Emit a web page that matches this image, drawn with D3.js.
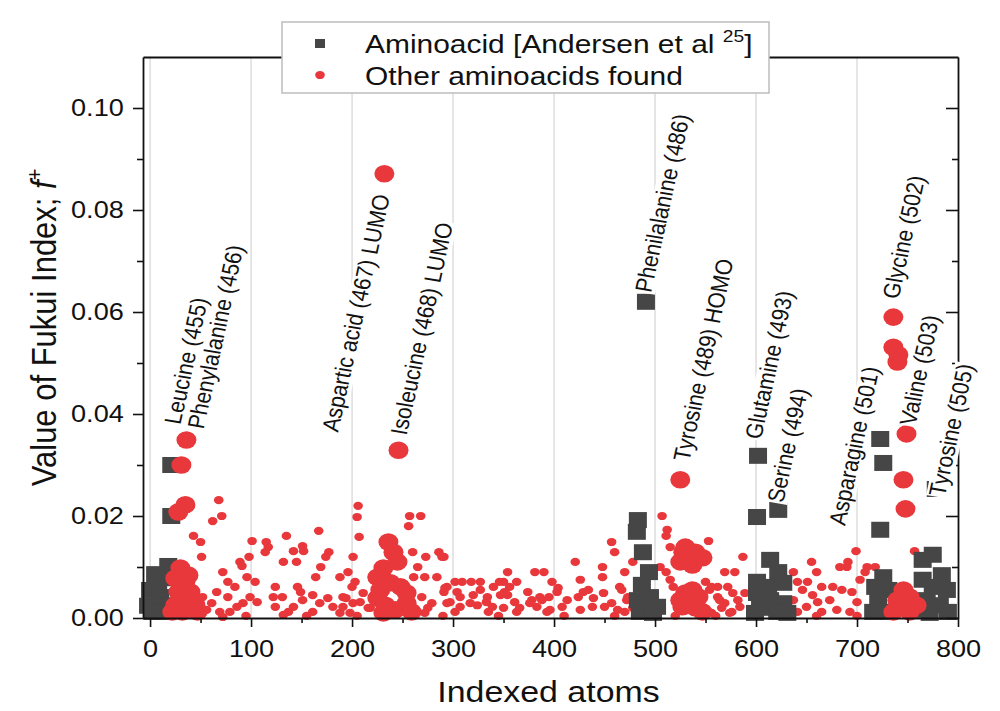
<!DOCTYPE html>
<html>
<head>
<meta charset="utf-8">
<script src="https://cdn.jsdelivr.net/npm/d3@7"></script>
<style>
  body { margin: 0; background: #fff; }
  svg { display: block; }
  text { font-family: "Liberation Sans", Arial, sans-serif; fill: #111; }
</style>
</head>
<body>
<div id="chart"></div>
<script>
// Fukui index f+ per indexed atom

// gray squares: aminoacid atoms from Andersen et al.
const andersen = [
  [21,.0300],[21,.0200],[18,.0102],[5,.0086],[20,.0078],[0,.0055],[10,.0041],[-2,.0024],[12,.0012],[20,.0025],[2,.0012],[8,.0070],
  [491,.0620],[483,.0192],[482,.0169],[488,.0129],[494,.0090],[487,.0065],[495,.0041],[502,.0022],[485,.0012],[498,.0010],[483,.0035],
  [602,.0318],[601,.0198],[622,.0212],[614,.0114],[622,.0090],[601,.0071],[612,.0061],[627,.0069],[601,.0049],[614,.0035],[627,.0029],[604,.0020],[621,.0012],[631,.0010],[599,.0010],
  [723,.0351],[726,.0304],[723,.0173],[726,.0080],[718,.0061],[731,.0055],[721,.0035],[716,.0012],[731,.0012],
  [778,.0253],[775,.0124],[765,.0114],[784,.0084],[765,.0075],[775,.0061],[789,.0055],[769,.0035],[782,.0025],[762,.0016],[790,.0012],[772,.0010]
];

// small red dots: other aminoacid atoms
const otherSmall = [
  [68,.0231],[71,.0200],[62,.0190],[43,.0161],[50,.0149],[51,.0120],[72,.0090],[77,.0071],[66,.0051],[52,.0041],[61,.0029],[56,.0016],[69,.0012],
  [77,.0041],[84,.0061],[89,.0110],[91,.0102],[98,.0120],[101,.0151],[96,.0080],[104,.0071],[99,.0041],[92,.0029],[86,.0022],[79,.0012],[106,.0031],
  [115,.0149],[117,.0139],[114,.0129],[124,.0061],[122,.0041],[131,.0041],[124,.0022],[132,.0110],[135,.0161],[142,.0131],[145,.0110],[151,.0141],
  [152,.0131],[164,.0080],[169,.0100],[167,.0171],[174,.0120],[177,.0129],[146,.0061],[149,.0051],[151,.0035],[142,.0022],[137,.0012],[161,.0045],
  [168,.0029],[176,.0039],[181,.0022],[188,.0080],[191,.0041],[188,.0010],[161,.0012],[132,.0006],[72,.0002],[196,.0090],[206,.0220],[205,.0198],
  [207,.0159],[201,.0120],[211,.0049],[208,.0031],[218,.0020],[203,.0071],[200,.0061],[194,.0039],[201,.0029],[191,.0022],[216,.0020],[198,.0010],
  [257,.0200],[268,.0200],[256,.0180],[260,.0129],[273,.0120],[265,.0100],[261,.0080],[272,.0080],[284,.0080],[286,.0129],[291,.0120],[294,.0061],
  [291,.0051],[269,.0041],[279,.0029],[275,.0020],[272,.0010],[294,.0029],[292,.0059],[289,.0120],
  [302,.0071],[309,.0071],[318,.0071],[327,.0071],[304,.0051],[297,.0031],[307,.0022],[302,.0012],[320,.0045],[327,.0055],[333,.0031],[324,.0025],
  [335,.0012],[340,.0061],[346,.0071],[354,.0090],[350,.0071],[356,.0061],[354,.0045],[361,.0031],[350,.0020],[363,.0012],[374,.0051],[381,.0090],
  [390,.0090],[386,.0041],[383,.0022],[393,.0012],[378,.0035],[347,.0045],[317,.0029],[307,.0041],[334,.0041],[339,.0022],[363,.0071],[351,.0051],
  [366,.0020],[376,.0029],[388,.0035],[398,.0071],[403,.0051],[396,.0016],[413,.0035],[421,.0110],[429,.0051],[426,.0016],[439,.0039],[448,.0100],
  [448,.0080],[457,.0149],[460,.0129],[470,.0090],[465,.0061],[472,.0035],[478,.0110],[450,.0022],[478,.0020],[404,.0059],[395,.0041],[408,.0022],
  [426,.0075],[434,.0055],[424,.0041],[438,.0022],[449,.0049],[467,.0055],[473,.0041],[457,.0029],[463,.0016],[470,.0012],
  [507,.0200],[512,.0173],[511,.0161],[515,.0139],[553,.0151],[587,.0120],[505,.0100],[511,.0090],[515,.0075],[518,.0061],[569,.0090],[579,.0090],
  [550,.0071],[556,.0061],[562,.0061],[572,.0061],[562,.0041],[569,.0029],[576,.0012],[582,.0035],[589,.0049],[556,.0010],[566,.0020],[547,.0120],
  [554,.0055],[564,.0035],[577,.0049],[584,.0022],[574,.0010],[550,.0016],
  [637,.0090],[655,.0110],[660,.0090],[641,.0071],[651,.0071],[665,.0061],[646,.0055],[656,.0045],[637,.0035],[676,.0061],[685,.0055],[673,.0035],
  [661,.0031],[650,.0022],[641,.0012],[665,.0012],[680,.0016],[691,.0110],[690,.0100],[699,.0131],[710,.0100],[708,.0090],[718,.0100],[695,.0051],
  [700,.0031],[693,.0012],[683,.0100],[703,.0075],[757,.0131],
  [95,.0004],[155,.0004],[205,.0004],[290,.0004],[345,.0004],[410,.0004],[460,.0004],[520,.0004],[560,.0004],[660,.0004],[700,.0004]
];

// large red dots
const otherLarge = [
  [36,.0349],[31,.0300],[35,.0222],[28,.0208],[30,.0098],[25,.0078],[35,.0071],[40,.0051],[28,.0051],[35,.0031],[45,.0025],[25,.0025],
  [32,.0012],[47,.0012],[22,.0012],[38,.0084],
  [232,.0871],[246,.0329],
  [236,.0149],[241,.0129],[245,.0110],[231,.0098],[225,.0080],[228,.0055],[238,.0069],[248,.0061],[254,.0049],[225,.0039],[233,.0025],
  [254,.0029],[243,.0016],[259,.0012],[231,.0010],
  [525,.0271],
  [528,.0129],[540,.0129],[547,.0118],[525,.0110],[537,.0104],[530,.0139],[530,.0049],[543,.0041],[527,.0022],[540,.0020],[537,.0055],
  [525,.0035],[547,.0012],
  [736,.0590],[736,.0531],[741,.0516],[740,.0502],[749,.0361],[746,.0271],[748,.0214],
  [746,.0055],[740,.0035],[752,.0041],[759,.0025],[743,.0020],[752,.0012],[736,.0012]
];

const labelText = ["Leucine (455)", "Phenylalanine (456)", "Aspartic acid (467) LUMO", "Isoleucine (468) LUMO",
  "Phenilalanine (486)", "Tyrosine (489) HOMO", "Glutamine (493)", "Serine (494)", "Asparagine (501)",
  "Glycine (502)", "Valine (503)", "Tyrosine (505)"];
const labelX = [30, 53, 186, 254, 496, 534, 605, 627, 688, 741, 758, 787];
const labelY = [.0378, .0369, .0363, .0357, .0637, .0306, .0349, .0225, .0180, .0624, .0376, .0237];

const xTicks = [0, 100, 200, 300, 400, 500, 600, 700, 800];
const xMinor = [50, 150, 250, 350, 450, 550, 650, 750];
const yTicks = [0, 0.02, 0.04, 0.06, 0.08, 0.10];
const yMinor = [0.01, 0.03, 0.05, 0.07, 0.09];
const gridX = [0, 100, 200, 300, 400, 500, 600, 700];

const red = "#e8383c", gray = "#464646";
const SX = 1.13; // the source picture is a little stretched sideways

const W = 1000, H = 711;
const pLeft = 143, pRight = 958, pTop = 57, pBottom = 618;

const svg = d3.select("#chart").append("svg")
    .attr("width", W).attr("height", H);

const x = d3.scaleLinear().domain([-7, 800]).range([pLeft, pRight]);
const y = d3.scaleLinear().domain([0, 0.11]).range([pBottom, pTop]);

// vertical grid
svg.append("g").selectAll("line").data(gridX).join("line")
    .attr("x1", d => x(d)).attr("x2", d => x(d))
    .attr("y1", pTop).attr("y2", pBottom)
    .attr("stroke", "#cccccc").attr("stroke-width", 1);

// points
svg.append("g").selectAll("ellipse").data(otherSmall).join("ellipse")
    .attr("cx", d => x(d[0])).attr("cy", d => y(d[1]))
    .attr("rx", 4.8).attr("ry", 4.1)
    .attr("fill", red);

svg.append("g").selectAll("rect").data(andersen).join("rect")
    .attr("x", d => x(d[0]) - 9).attr("y", d => y(d[1]) - 8)
    .attr("width", 18).attr("height", 16)
    .attr("fill", gray);

svg.append("g").selectAll("ellipse").data(otherLarge).join("ellipse")
    .attr("cx", d => x(d[0])).attr("cy", d => y(d[1]))
    .attr("rx", 10).attr("ry", 8.8)
    .attr("fill", red);

// axes
const bottomAxis = svg.append("g").attr("transform", "translate(0," + pBottom + ")")
    .call(d3.axisBottom(x).tickValues(xTicks).tickSize(9).tickSizeOuter(0).tickPadding(13).tickFormat(d3.format("d")));
svg.append("g").attr("transform", "translate(0," + pBottom + ")")
    .call(d3.axisBottom(x).tickValues(xMinor).tickSize(5).tickSizeOuter(0).tickFormat(""))
    .select(".domain").remove();

const leftAxis = svg.append("g").attr("transform", "translate(" + pLeft + ",0)")
    .call(d3.axisLeft(y).tickValues(yTicks).tickSize(10).tickSizeOuter(0).tickPadding(7).tickFormat(d3.format(".2f")));
svg.append("g").attr("transform", "translate(" + pLeft + ",0)")
    .call(d3.axisLeft(y).tickValues(yMinor).tickSize(6).tickSizeOuter(0).tickFormat(""))
    .select(".domain").remove();

svg.append("g").attr("transform", "translate(" + pRight + ",0)")
    .call(d3.axisLeft(y).tickValues(yTicks).tickSize(12).tickSizeOuter(0).tickFormat(""));
svg.append("g").attr("transform", "translate(" + pRight + ",0)")
    .call(d3.axisLeft(y).tickValues(yMinor).tickSize(6).tickSizeOuter(0).tickFormat(""))
    .select(".domain").remove();

svg.append("g").attr("transform", "translate(0," + pTop + ")")
    .call(d3.axisTop(x).tickValues([]).tickSizeOuter(0));

svg.selectAll(".domain").attr("stroke", "#111").attr("stroke-width", 1.8);
svg.selectAll(".tick line").attr("stroke", "#111").attr("stroke-width", 1.6);

bottomAxis.selectAll(".tick text")
    .attr("font-size", 24).attr("fill", "#111")
    .attr("font-family", "Liberation Sans, Arial, sans-serif")
    .attr("transform", "scale(" + SX + ",1)");
leftAxis.selectAll(".tick text")
    .attr("font-size", 24).attr("fill", "#111")
    .attr("font-family", "Liberation Sans, Arial, sans-serif")
    .attr("transform", "scale(" + SX + ",1)");

// labels with white backing
labelText.forEach(function (t, i) {
  const g = svg.append("g")
      .attr("transform", "translate(" + x(labelX[i]) + "," + y(labelY[i]) + ") scale(" + SX + ",1) rotate(-79)");
  const tx = g.append("text").attr("font-size", 21).text(t);
  const bb = tx.node().getBBox();
  g.insert("rect", "text")
      .attr("x", bb.x - 1).attr("y", bb.y + 2)
      .attr("width", bb.width + 2).attr("height", bb.height - 3)
      .attr("fill", "#fff");
});

// axis titles
const xt = svg.append("g").attr("transform", "translate(" + ((pLeft + pRight) / 2 - 2) + ",702) scale(" + SX + ",1)");
xt.append("text").attr("text-anchor", "middle").attr("font-size", 30).text("Indexed atoms");

const yt = svg.append("g").attr("transform", "translate(56," + ((pTop + pBottom) / 2 - 10) + ") scale(" + SX + ",1) rotate(-90)");
const ytt = yt.append("text").attr("text-anchor", "middle").attr("font-size", 31);
ytt.append("tspan").text("Value of Fukui Index; ");
ytt.append("tspan").attr("font-style", "italic").text("f");
ytt.append("tspan").attr("font-size", 20).attr("dy", -12).text("+");

// legend
const lg = svg.append("g");
lg.append("rect").attr("x", 282).attr("y", 22).attr("width", 487).attr("height", 71)
    .attr("fill", "#fff").attr("stroke", "#bdbdbd").attr("stroke-width", 1.5);
lg.append("rect").attr("x", 315).attr("y", 39).attr("width", 10).attr("height", 9).attr("fill", gray);
lg.append("ellipse").attr("cx", 320).attr("cy", 75).attr("rx", 4.8).attr("ry", 4.1).attr("fill", red);

const l1 = lg.append("g").attr("transform", "translate(365,53) scale(" + SX + ",1)")
    .append("text").attr("font-size", 26.5);
l1.append("tspan").text("Aminoacid [Andersen et al ");
l1.append("tspan").attr("font-size", 17).attr("dy", -11).text("25");
l1.append("tspan").attr("dy", 11).text("]");

lg.append("g").attr("transform", "translate(365,85) scale(" + SX + ",1)")
    .append("text").attr("font-size", 26.5).text("Other aminoacids found");
</script>
</body>
</html>
